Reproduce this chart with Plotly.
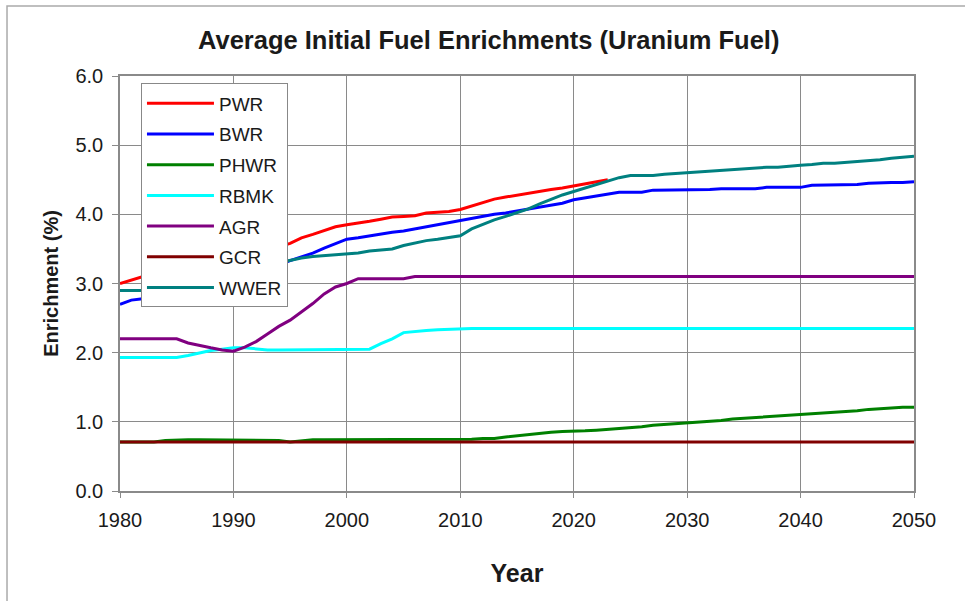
import plotly.graph_objects as go

years = list(range(1980, 2051))

pwr = [3.00, 3.05, 3.10, 3.15, 3.20, 3.25, 3.28, 3.32, 3.36, 3.40,
       3.43, 3.45, 3.48, 3.50, 3.53, 3.58, 3.66, 3.71, 3.76, 3.82,
       3.85, 3.87, 3.90, 3.93, 3.96, 3.97, 3.98, 4.02, 4.03, 4.04,
       4.07, 4.12, 4.18, 4.22, 4.25, 4.28, 4.31, 4.33, 4.36, 4.38,
       4.41, 4.44, 4.47, 4.50] + [None] * 27

bwr = [2.70, 2.76, 2.78, 2.82, 2.86, 2.90, 2.94, 2.98, 3.02, 3.06,
       3.10, 3.14, 3.18, 3.22, 3.27, 3.33, 3.38, 3.44, 3.51, 3.57,
       3.64, 3.66, 3.69, 3.71, 3.74, 3.76, 3.79, 3.82, 3.85, 3.89,
       3.92, 3.95, 3.97, 4.00, 4.02, 4.05, 4.08, 4.11, 4.13, 4.16,
       4.21, 4.24, 4.26, 4.29, 4.32, 4.32, 4.32, 4.35, 4.35, 4.35,
       4.35, 4.35, 4.36, 4.37, 4.37, 4.37, 4.37, 4.39, 4.39, 4.39,
       4.39, 4.42, 4.42, 4.42, 4.42, 4.43, 4.45, 4.46, 4.46, 4.46,
       4.47]

phwr = [0.71, 0.71, 0.71, 0.71, 0.73, 0.74, 0.74, 0.74, 0.74, 0.74,
        0.74, 0.74, 0.74, 0.74, 0.73, 0.71, 0.73, 0.74, 0.74, 0.74,
        0.74, 0.74, 0.74, 0.74, 0.74, 0.74, 0.74, 0.74, 0.74, 0.74,
        0.75, 0.75, 0.76, 0.76, 0.78, 0.80, 0.82, 0.83, 0.85, 0.86,
        0.86, 0.87, 0.88, 0.89, 0.90, 0.92, 0.93, 0.95, 0.96, 0.97,
        0.98, 1.00, 1.01, 1.02, 1.04, 1.05, 1.06, 1.07, 1.08, 1.10,
        1.11, 1.11, 1.13, 1.14, 1.15, 1.16, 1.18, 1.19, 1.21, 1.21,
        1.21]

rbmk = [1.93, 1.93, 1.93, 1.93, 1.93, 1.93, 1.96, 2.00, 2.03, 2.05,
        2.07, 2.07, 2.05, 2.04, 2.04, 2.04, 2.04, 2.04, 2.04, 2.04,
        2.04, 2.04, 2.05, 2.13, 2.20, 2.29, 2.31, 2.32, 2.33, 2.34,
        2.35, 2.35, 2.35, 2.35, 2.35, 2.35, 2.35, 2.35, 2.35, 2.35,
        2.35, 2.35, 2.35, 2.35, 2.35, 2.35, 2.35, 2.35, 2.35, 2.35,
        2.35, 2.35, 2.35, 2.35, 2.35, 2.35, 2.35, 2.35, 2.35, 2.35,
        2.35, 2.35, 2.35, 2.35, 2.35, 2.35, 2.35, 2.35, 2.35, 2.35,
        2.35]

agr = [2.20, 2.20, 2.20, 2.20, 2.20, 2.20, 2.14, 2.10, 2.07, 2.04,
       2.02, 2.08, 2.16, 2.27, 2.38, 2.47, 2.59, 2.71, 2.85, 2.95,
       3.00, 3.07, 3.07, 3.07, 3.07, 3.07, 3.10, 3.10, 3.10, 3.10,
       3.10, 3.10, 3.10, 3.10, 3.10, 3.10, 3.10, 3.10, 3.10, 3.10,
       3.10, 3.10, 3.10, 3.10, 3.10, 3.10, 3.10, 3.10, 3.10, 3.10,
       3.10, 3.10, 3.10, 3.10, 3.10, 3.10, 3.10, 3.10, 3.10, 3.10,
       3.10, 3.10, 3.10, 3.10, 3.10, 3.10, 3.10, 3.10, 3.10, 3.10,
       3.10]

gcr = [0.71] * 71

wwer = [2.90, 2.90, 2.90, 2.93, 2.96, 3.00, 3.03, 3.07, 3.10, 3.13,
        3.16, 3.19, 3.22, 3.26, 3.30, 3.34, 3.37, 3.39, 3.40, 3.42,
        3.43, 3.44, 3.47, 3.48, 3.50, 3.55, 3.59, 3.62, 3.64, 3.66,
        3.69, 3.79, 3.86, 3.92, 3.97, 4.02, 4.08, 4.15, 4.22, 4.28,
        4.33, 4.38, 4.43, 4.48, 4.53, 4.56, 4.56, 4.56, 4.58, 4.59,
        4.61, 4.61, 4.63, 4.64, 4.65, 4.66, 4.66, 4.68, 4.68, 4.70,
        4.71, 4.72, 4.74, 4.74, 4.75, 4.77, 4.78, 4.79, 4.81, 4.82,
        4.84]

series_names = ["PWR", "BWR", "PHWR", "RBMK", "AGR", "GCR", "WWER"]
series_values = [pwr, bwr, phwr, rbmk, agr, gcr, wwer]
series_colors = ["#ff0000", "#0000ff", "#008000", "#00ffff", "#800080", "#800000", "#008080"]

x_ticks = [1980, 1990, 2000, 2010, 2020, 2030, 2040, 2050]
y_ticks = [0, 1, 2, 3, 4, 5, 6]

FONT = "Liberation Sans, Arial, sans-serif"
TXT = "#1a1a1a"

fig = go.Figure()
for i, (name, vals, col) in enumerate(zip(series_names, series_values, series_colors)):
    fig.add_trace(go.Scatter(
        x=years, y=vals, mode="lines", name=name,
        line=dict(color=col, width=3),
        legendgroup="g%d" % i,
        connectgaps=False,
    ))

fig.update_layout(
    width=965, height=601,
    margin=dict(l=120, r=51, t=76, b=110),
    paper_bgcolor="white",
    plot_bgcolor="white",
    font=dict(family=FONT, color=TXT),
    showlegend=True,
    legend=dict(
        x=0.0264, y=0.982, xanchor="left", yanchor="top",
        bgcolor="white", bordercolor="#888888", borderwidth=1,
        font=dict(size=19, family=FONT, color=TXT),
        tracegroupgap=3,
        itemwidth=67,
    ),
    annotations=[
        dict(text="<b>Average Initial Fuel Enrichments (Uranium Fuel)</b>",
             xref="paper", yref="paper", x=0.464, y=1.0, yshift=36,
             xanchor="center", yanchor="middle", showarrow=False,
             font=dict(size=25.5, family=FONT, color=TXT)),
    ],
    shapes=[
        dict(type="rect", xref="paper", yref="paper",
             x0=-0.1423, x1=1.2, y0=-0.5, y1=1.1687,
             line=dict(color="#aaaaaa", width=1.5), fillcolor="rgba(0,0,0,0)", layer="below"),
    ],
)

fig.update_xaxes(
    range=[1980, 2050], tickvals=x_ticks, ticktext=[str(v) for v in x_ticks],
    showgrid=True, gridcolor="#8a8a8a", gridwidth=1,
    showline=True, linecolor="#8a8a8a", linewidth=1.5, mirror=True,
    ticks="outside", ticklen=5, tickcolor="#8a8a8a",
    ticklabelstandoff=5,
    tickfont=dict(size=20, family=FONT, color=TXT),
    title=dict(text="<b>Year</b>", font=dict(size=25, family=FONT, color=TXT), standoff=35),
    zeroline=False,
)
fig.update_yaxes(
    range=[0, 6], tickvals=y_ticks, ticktext=["%.1f" % v for v in y_ticks],
    showgrid=True, gridcolor="#8a8a8a", gridwidth=1,
    showline=True, linecolor="#8a8a8a", linewidth=1.5, mirror=True,
    ticks="outside", ticklen=6, tickcolor="#8a8a8a",
    ticklabelstandoff=5,
    tickfont=dict(size=20, family=FONT, color=TXT),
    title=dict(text="<b>Enrichment (%)</b>", font=dict(size=20, family=FONT, color=TXT), standoff=11),
    zeroline=False,
)

fig.write_html("out.html", config={"displayModeBar": False},
               post_script="document.body.style.margin='0';")
